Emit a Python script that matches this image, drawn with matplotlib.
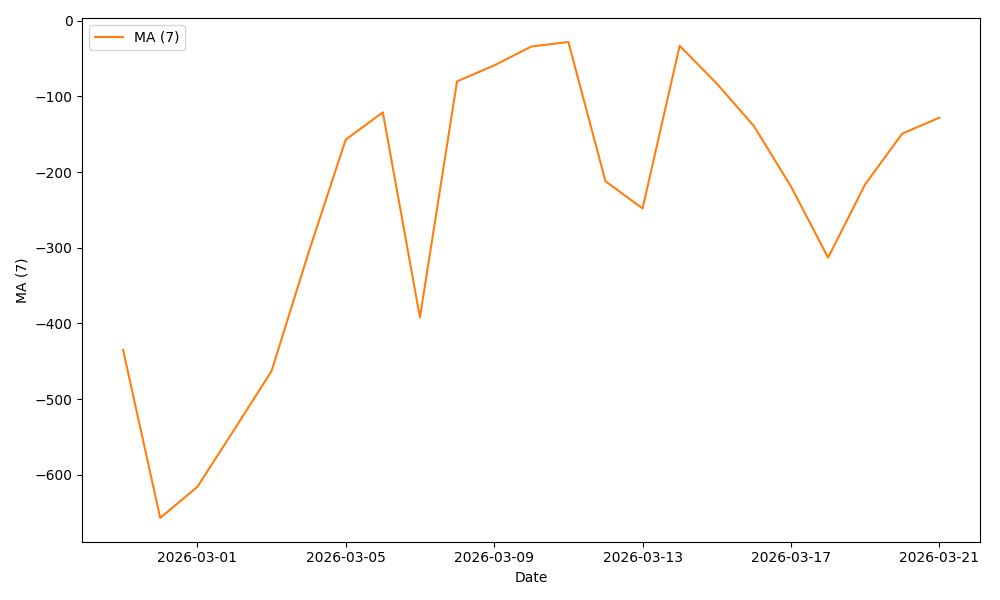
import numpy as np
import pandas as pd
import matplotlib.pyplot as plt

# daily moving average values
dates = pd.date_range("2026-02-27", "2026-03-21", freq="D")
ma7 = [-435, -657, -616, -540, -463, -306, -157, -121, -392, -80, -59,
       -34, -28, -212, -248, -33, -83, -139, -219, -313, -216, -149, -128]

fig, ax = plt.subplots(figsize=(10, 6), dpi=100)
ax.plot(dates, ma7, color='#ff7f0e', label='MA (7)')
ax.set_xlabel("Date")
ax.set_ylabel("MA (7)")
ax.set_xticks(pd.date_range("2026-03-01", "2026-03-21", freq="4D"))
ax.xaxis.set_major_formatter(plt.matplotlib.dates.DateFormatter("%Y-%m-%d"))
ax.legend(loc='upper left')
plt.tight_layout()
plt.savefig("out.png")
